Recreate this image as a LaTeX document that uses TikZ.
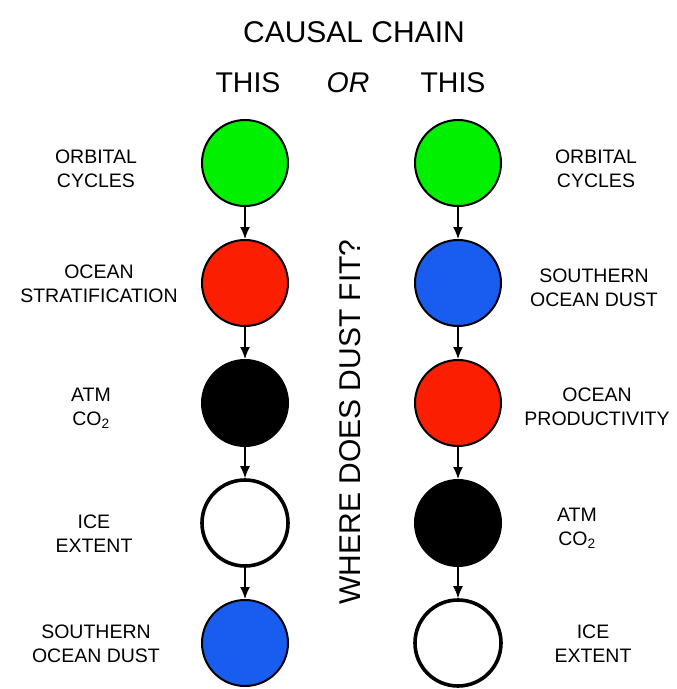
\documentclass[tikz,border=0pt]{standalone}
\usepackage{fontspec}
\setmainfont{Liberation Sans}
\usetikzlibrary{arrows.meta}
\definecolor{orbgreen}{RGB}{0,240,0}
\definecolor{chainred}{RGB}{252,30,0}
\definecolor{dustblue}{RGB}{24,92,240}
\tikzset{
  stage/.style={circle, draw=black, line width=2pt, minimum size=86pt, inner sep=0pt},
  icestage/.style={stage, line width=3.6pt, fill=white},
  label/.style={align=center, font=\fontsize{19.5}{24}\selectfont, inner sep=0pt},
  heading/.style={font=\fontsize{28.5}{34}\selectfont, inner sep=0pt},
  link/.style={line width=1.5pt, -{Latex[length=12pt,width=10pt]}}
}
\begin{document}
\begin{tikzpicture}[x=1pt,y=-1pt]
  \useasboundingbox (0,0) rectangle (677,689);

  % headings
  \node[heading, font=\fontsize{30}{34}\selectfont] (title) at (354,32) {CAUSAL CHAIN};
  \node[heading] (thisL) at (248,83) {THIS};
  \node[heading] (or) at (348,83) {\itshape OR};
  \node[heading] (thisR) at (453,83) {THIS};
  \node[heading, rotate=90, font=\fontsize{30}{34}\selectfont] (question) at (350,422) {WHERE DOES DUST FIT?};

  % left chain
  \node[stage, fill=orbgreen] (l1) at (245,163) {};
  \node[stage, fill=chainred] (l2) at (245,283) {};
  \node[stage, fill=black] (l3) at (245,403) {};
  \node[icestage] (l4) at (245,523) {};
  \node[stage, fill=dustblue] (l5) at (245,643) {};

  % right chain
  \node[stage, fill=orbgreen] (r1) at (458,163) {};
  \node[stage, fill=dustblue] (r2) at (458,283) {};
  \node[stage, fill=chainred] (r3) at (458,403) {};
  \node[stage, fill=black] (r4) at (458,523) {};
  \node[icestage] (r5) at (458,643) {};

  % links
  \foreach \a/\b in {l1/l2,l2/l3,l3/l4,l4/l5,r1/r2,r2/r3,r3/r4,r4/r5}
    \draw[link] (\a) -- (\b);

  % left labels
  \node[label] (tl1) at (96,169) {ORBITAL\\CYCLES};
  \node[label] (tl2) at (99,284) {OCEAN\\STRATIFICATION};
  \node[label] (tl3) at (91,408) {ATM\\CO\textsubscript{2}};
  \node[label] (tl4) at (94,534) {ICE\\EXTENT};
  \node[label] (tl5) at (96,644) {SOUTHERN\\OCEAN DUST};

  % right labels
  \node[label] (tr1) at (596,169) {ORBITAL\\CYCLES};
  \node[label] (tr2) at (594,288) {SOUTHERN\\OCEAN DUST};
  \node[label] (tr3) at (597,407) {OCEAN\\PRODUCTIVITY};
  \node[label] (tr4) at (577,528) {ATM\\CO\textsubscript{2}};
  \node[label] (tr5) at (593,644) {ICE\\EXTENT};
\end{tikzpicture}
\end{document}
